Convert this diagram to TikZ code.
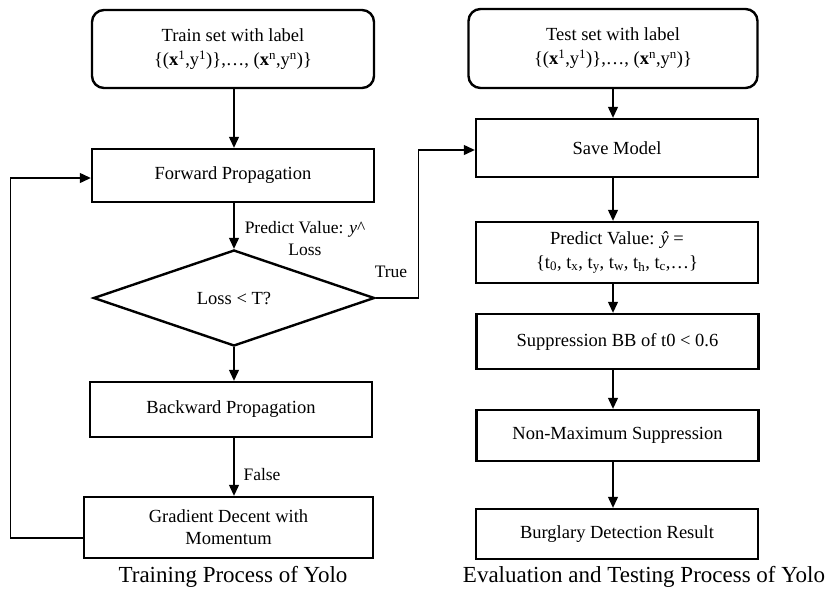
\documentclass[tikz,border=0pt]{standalone}
\usepackage{fontspec}
\setmainfont{Liberation Serif}
\usepackage{xcolor}
\usetikzlibrary{shapes.geometric,arrows.meta}

\begin{document}
\begin{tikzpicture}[x=1pt,y=-1pt,
  box/.style={draw, line width=2.4pt, minimum width=282pt, minimum height=55pt, inner sep=0pt, align=center, font=\fontsize{18.5}{24}\selectfont},
  startbox/.style={box, rounded corners=12pt, minimum height=78pt},
  decision/.style={draw, diamond, line width=2.4pt, minimum width=281pt, minimum height=96pt, inner sep=0pt, font=\fontsize{18.5}{24}\selectfont},
  lbl/.style={align=center, font=\fontsize{17.5}{22}\selectfont},
  caption/.style={font=\fontsize{23}{26}\selectfont},
  arr/.style={line width=1.2pt, -{Triangle[length=11pt,width=10pt]}}]
\useasboundingbox (0,0) rectangle (832,590);
\node[startbox] (train) at (233,49) {Train set with label\\\{(\textbf{x}\textsuperscript{1},y\textsuperscript{1})\},\ldots, (\textbf{x}\textsuperscript{n},y\textsuperscript{n})\}};
\node[box, minimum height=53pt] (fwd) at (233,175.5) {Forward Propagation};
\node[decision] (dec) at (234,298) {Loss < T?};
\node[box] (back) at (231,409.5) {Backward Propagation};
\node[box, minimum width=289pt, minimum height=61pt] (grad) at (228.5,527.5) {Gradient Decent with\\[-2pt]Momentum};
\node[startbox, minimum width=289pt, minimum height=79pt] (test) at (613,48.5) {Test set with label\\\{(\textbf{x}\textsuperscript{1},y\textsuperscript{1})\},\ldots, (\textbf{x}\textsuperscript{n},y\textsuperscript{n})\}};
\node[box, minimum height=58pt] (save) at (617,148) {Save Model};
\node[box, minimum height=61pt] (pred) at (617,252.5) {Predict Value: \textit{\^{y}} =\\\{t\textsubscript{0}, t\textsubscript{x}, t\textsubscript{y}, t\textsubscript{w}, t\textsubscript{h}, t\textsubscript{c},\ldots\}};
\node[box] (supp) at (617.5,341.5) {Suppression BB of t0 < 0.6};
\node[box, minimum height=51pt] (nms) at (617.5,435.5) {Non-Maximum Suppression};
\node[box, minimum height=50pt] (burg) at (617,534) {Burglary Detection Result};
\node[lbl] (pv) at (305,239) {Predict Value: \textit{y}\^{}\\Loss};
\node[lbl] (true) at (391,272) {True};
\node[lbl] (false) at (262,475) {False};
\node[caption] (cap1) at (233,577) {Training Process of Yolo};
\node[caption] (cap2) at (644,577) {Evaluation and Testing Process of Yolo};
\draw[arr] (train.south -| 234,0) -- (fwd.north -| 234,0);
\draw[arr] (fwd.south -| 234,0) -- (dec.north);
\draw[arr] (dec.south) -- (back.north -| 234,0);
\draw[arr] (back.south -| 234,0) -- (grad.north -| 234,0);
\draw[arr] ([yshift=-10.5pt]grad.west) -- ++(-72,0) |- ([yshift=-2.5pt]fwd.west);
\draw[arr] (dec.east) -- ++(43,0) |- ([yshift=-2pt]save.west);
\draw[arr] (test.south -| 613,0) -- (save.north -| 613,0);
\draw[arr] (save.south -| 613,0) -- (pred.north -| 613,0);
\draw[arr] (pred.south -| 613,0) -- (supp.north -| 613,0);
\draw[arr] (supp.south -| 613,0) -- (nms.north -| 613,0);
\draw[arr] (nms.south -| 613,0) -- (burg.north -| 613,0);
\end{tikzpicture}
\end{document}
